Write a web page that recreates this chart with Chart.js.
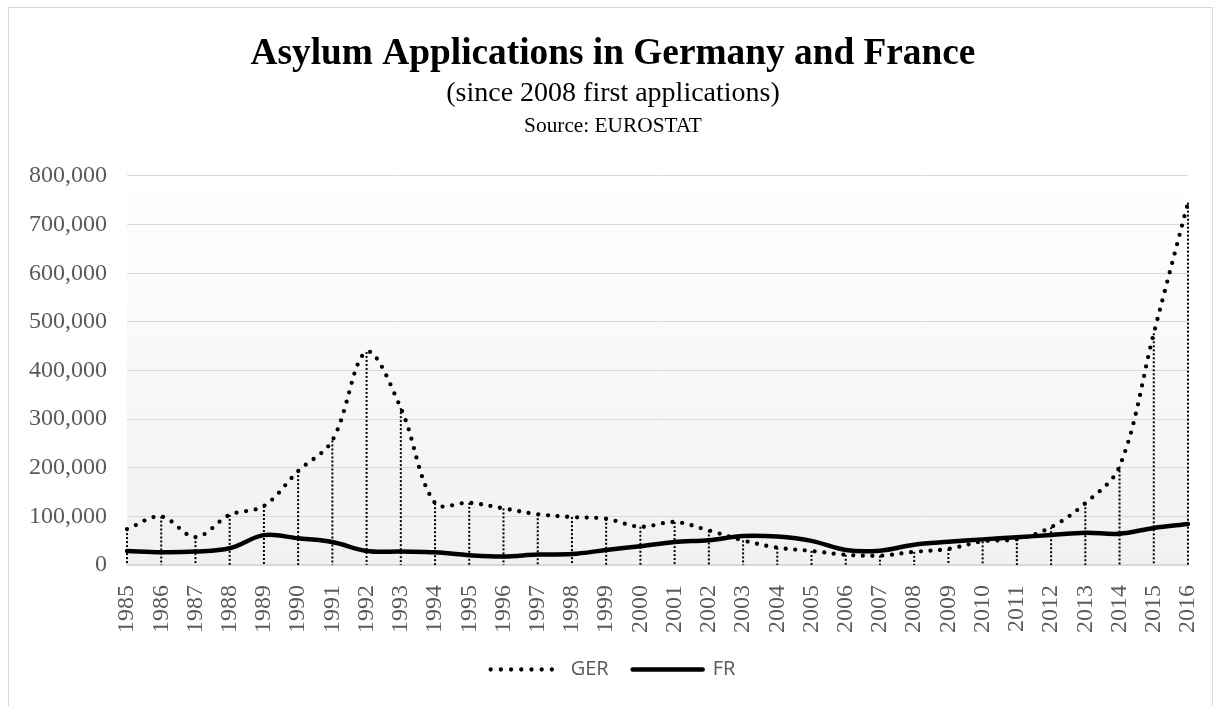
<!DOCTYPE html>
<html>
<head>
<meta charset="utf-8">
<script src="https://cdn.jsdelivr.net/npm/chart.js@4/dist/chart.umd.min.js"></script>
<style>
  html, body { margin: 0; padding: 0; background: #fff; }
</style>
</head>
<body>
<canvas id="asylumChart" width="1217" height="706"></canvas>
<script>
// data
const years = ['1985', '1986', '1987', '1988', '1989', '1990', '1991', '1992', '1993', '1994',
  '1995', '1996', '1997', '1998', '1999', '2000', '2001', '2002', '2003', '2004', '2005',
  '2006', '2007', '2008', '2009', '2010', '2011', '2012', '2013', '2014', '2015', '2016'];

const gerValues = [73800, 99700, 57400, 103100, 121300, 193100, 256100, 438200, 322600, 127200,
  127900, 116400, 104400, 98600, 95100, 78600, 88300, 71100, 50600, 35600, 28900,
  21000, 19200, 27000, 33000, 48600, 53200, 77700, 127000, 202600, 476500, 745200];

const frValues = [28900, 26300, 27700, 34400, 61400, 54800, 47400, 28900, 27600, 26000,
  20200, 17400, 21400, 22400, 30900, 38700, 47300, 51100, 59800, 58500, 49700,
  30700, 29400, 41800, 47700, 52700, 57300, 61500, 66300, 64300, 76200, 84300];

const yMax = 800000;
const yStep = 100000;

const serif = 'Liberation Serif';
const gray = '#595959';

// white page, outer frame and the gradient behind the plot
const chartFrame = {
    id: 'chartFrame',
    afterLayout(chart) {
        // let the y labels run left of the layout padding without being clipped
        chart.scales.y.left = 0;
    },
    beforeDraw(chart) {
        const { ctx, chartArea: a } = chart;
        ctx.save();
        ctx.fillStyle = '#fff';
        ctx.fillRect(0, 0, chart.width, chart.height);
        ctx.strokeStyle = '#d9d9d9';
        ctx.lineWidth = 1;
        ctx.strokeRect(8.5, 7.5, 1204, 760);
        const g = ctx.createLinearGradient(0, a.top, 0, a.bottom);
        g.addColorStop(0, '#ffffff');
        g.addColorStop(1, '#f1f1f1');
        ctx.fillStyle = g;
        ctx.fillRect(a.left, a.top, a.right - a.left, a.bottom - a.top);
        ctx.restore();
    }
};

// dotted drop lines from every GER point down to the axis
const dropLines = {
    id: 'dropLines',
    beforeDatasetsDraw(chart) {
        const { ctx } = chart;
        const meta = chart.getDatasetMeta(0);
        const base = chart.scales.y.getPixelForValue(0);
        ctx.save();
        ctx.strokeStyle = '#000';
        ctx.lineWidth = 2;
        ctx.setLineDash([2, 2]);
        meta.data.forEach(pt => {
            ctx.beginPath();
            ctx.moveTo(pt.x, pt.y);
            ctx.lineTo(pt.x, base);
            ctx.stroke();
        });
        ctx.restore();
    }
};

// third title line, sits in the space kept under the subtitle
const sourceLine = {
    id: 'sourceLine',
    afterDraw(chart) {
        const { ctx } = chart;
        const t = chart.titleBlock;
        ctx.save();
        ctx.fillStyle = '#000';
        ctx.font = '21.33px "' + serif + '"';
        ctx.textAlign = 'center';
        ctx.textBaseline = 'alphabetic';
        ctx.fillText('Source: EUROSTAT', (t.left + t.right) / 2, t.bottom + 55);
        ctx.restore();
    }
};

const asylumChartCtx = document.getElementById('asylumChart').getContext('2d');

const asylumChart = new Chart(asylumChartCtx, {
    type: 'line',
    data: {
        labels: years,
        datasets: [{
            label: 'GER',
            data: gerValues,
            borderColor: '#000',
            borderWidth: 4.3,
            borderDash: [0, 9.7],
            borderCapStyle: 'round',
            tension: 0.35,
            pointRadius: 0,
            fill: false
        }, {
            label: 'FR',
            data: frValues,
            borderColor: '#000',
            borderWidth: 4.5,
            borderCapStyle: 'round',
            borderJoinStyle: 'round',
            tension: 0.35,
            pointRadius: 0,
            fill: false
        }]
    },
    options: {
        responsive: false,
        animation: false,
        layout: {
            padding: { top: 0, left: 38, right: 29, bottom: 16.5 }
        },
        plugins: {
            title: {
                display: true,
                text: 'Asylum Applications in Germany and France',
                color: '#000',
                font: { family: serif, size: 37.33, weight: 'bold', lineHeight: 1.2 },
                padding: { top: 32, bottom: 0 }
            },
            subtitle: {
                display: true,
                text: '(since 2008 first applications)',
                color: '#000',
                font: { family: serif, size: 28, weight: 'normal', lineHeight: 1.2 },
                padding: { top: 0, bottom: 65.6 }
            },
            legend: {
                position: 'bottom',
                labels: {
                    usePointStyle: true,
                    pointStyleWidth: 70,
                    boxHeight: 8,
                    padding: 24,
                    color: gray,
                    font: { family: 'Open Sans', size: 20 },
                    generateLabels: chart => chart.data.datasets.map((ds, i) => ({
                        text: ds.label,
                        datasetIndex: i,
                        pointStyle: 'line',
                        strokeStyle: ds.borderColor,
                        fillStyle: ds.borderColor,
                        lineWidth: ds.borderWidth,
                        lineDash: ds.borderDash ? [0, 10.2] : [],
                        lineCap: 'round',
                        fontColor: gray,
                        hidden: false
                    }))
                }
            },
            tooltip: { enabled: false }
        },
        scales: {
            x: {
                grid: { display: false },
                border: { color: '#d9d9d9', width: 1.5 },
                ticks: {
                    autoSkip: false,
                    maxRotation: 90,
                    minRotation: 90,
                    padding: 12,
                    color: gray,
                    font: { family: serif, size: 24, lineHeight: 0.6 }
                },
                afterFit(scale) { scale.height = 70.5; }
            },
            y: {
                min: 0,
                max: yMax,
                grid: { color: '#d9d9d9', drawTicks: false },
                border: { display: false },
                ticks: {
                    stepSize: yStep,
                    padding: 20,
                    color: gray,
                    font: { family: serif, size: 24 },
                    callback: v => v.toLocaleString('en-US')
                },
                afterFit(scale) { scale.width = 89; }
            }
        }
    },
    plugins: [chartFrame, dropLines, sourceLine]
});
</script>
</body>
</html>
